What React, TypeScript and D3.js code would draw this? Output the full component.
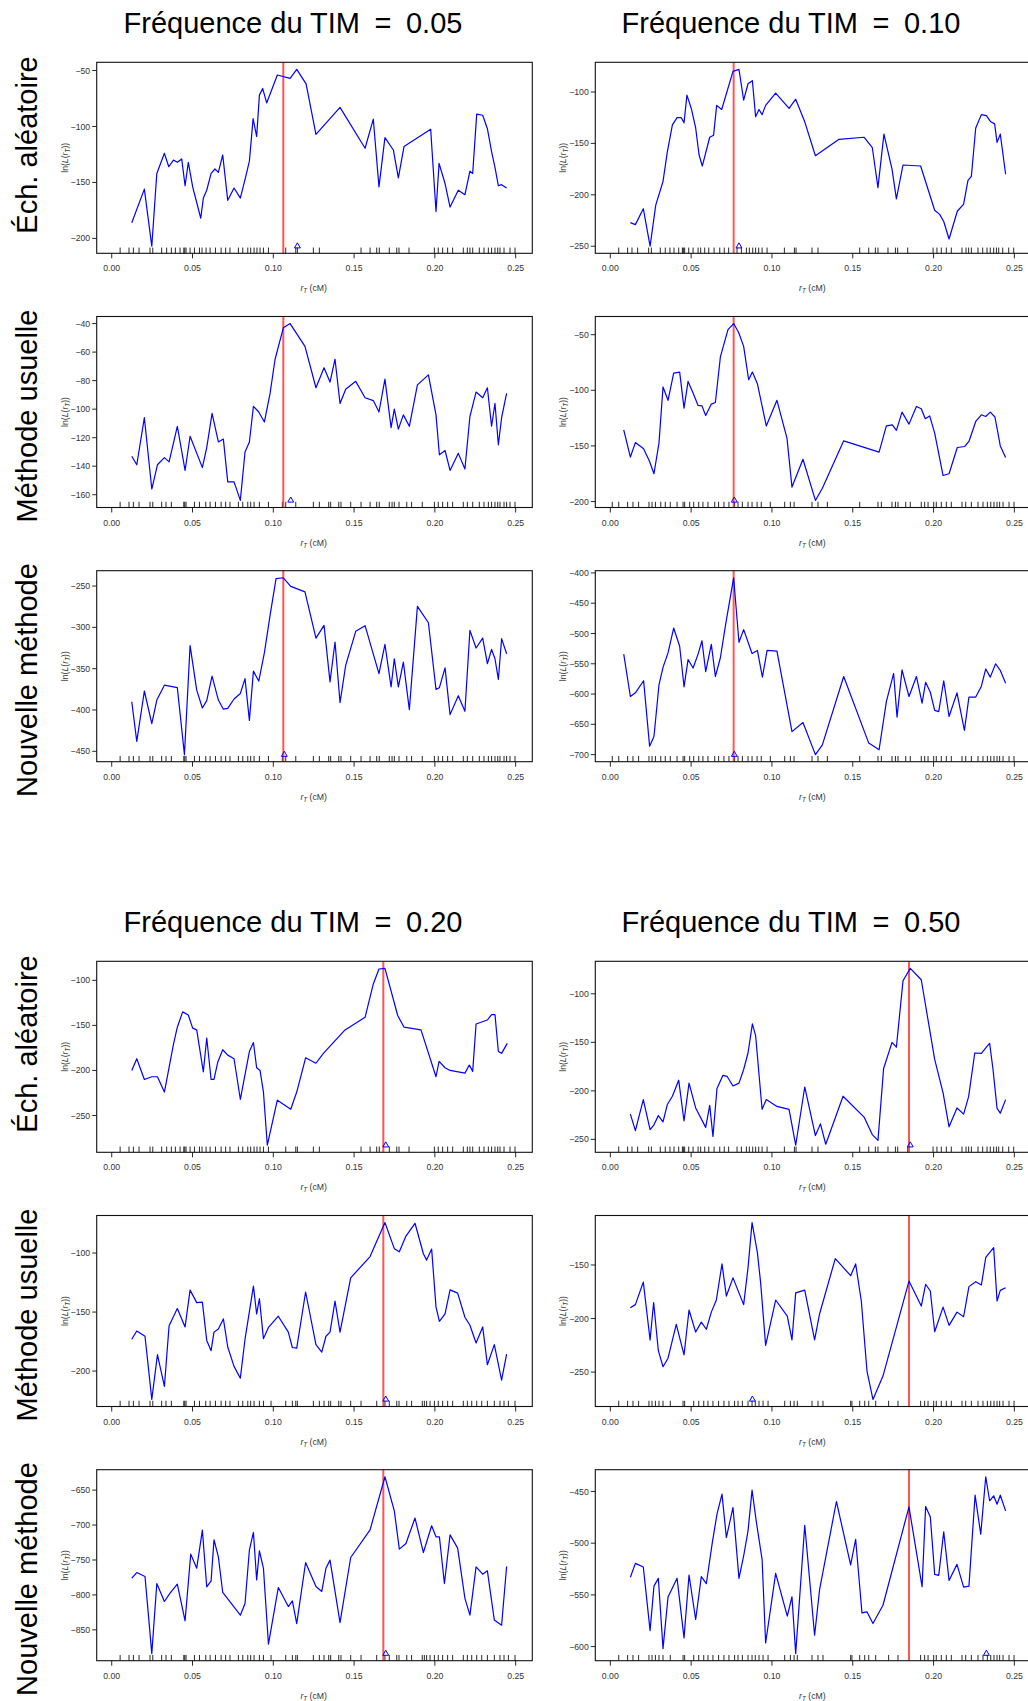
import React from "react";
import * as d3 from "d3";

// fréquences du TIM et méthodes
const timLabels = ["0.05", "0.10", "0.20", "0.50"];
const methodLabels = ["Éch. aléatoire", "Méthode usuelle", "Nouvelle méthode"];

// vraie position du TIM (ligne rouge), une par fréquence
const trueR = [0.1062, 0.0763, 0.1681, 0.1848];
// position estimée (triangle bleu) : fréquence x méthode
const estR = [
  [0.1149, 0.1108, 0.1068],
  [0.0796, 0.0767, 0.0767],
  [0.1696, 0.1696, 0.1696],
  [0.1856, 0.0879, 0.2327],
];

// positions des marqueurs (rug)
const rugEch = [0.0052, 0.0107, 0.0134, 0.0169, 0.0237, 0.0254, 0.0309, 0.034, 0.0369, 0.0394, 0.0423, 0.0446, 0.0452, 0.046, 0.0485, 0.0512, 0.0543, 0.0559, 0.0584, 0.0609, 0.0642, 0.0677, 0.0705, 0.0732, 0.0784, 0.0811, 0.0842, 0.086, 0.0881, 0.0899, 0.0918, 0.0939, 0.097, 0.1077, 0.1139, 0.1149, 0.1248, 0.1285, 0.1543, 0.1599, 0.164, 0.1656, 0.1718, 0.1764, 0.1778, 0.184, 0.1997, 0.2021, 0.2048, 0.2079, 0.211, 0.2176, 0.2201, 0.2217, 0.2234, 0.2275, 0.2304, 0.2331, 0.2351, 0.2372, 0.2389, 0.2403, 0.2428, 0.2465, 0.2496];
const rug05 = [0.0052, 0.0107, 0.0134, 0.0169, 0.0237, 0.0254, 0.0309, 0.0336, 0.0369, 0.0446, 0.0452, 0.046, 0.0512, 0.0543, 0.0582, 0.0609, 0.0642, 0.0677, 0.0705, 0.0732, 0.0784, 0.0811, 0.0842, 0.086, 0.0881, 0.0914, 0.097, 0.1056, 0.1077, 0.1139, 0.1248, 0.1285, 0.1343, 0.1355, 0.1405, 0.1419, 0.1479, 0.1543, 0.1599, 0.164, 0.1656, 0.1718, 0.1735, 0.1749, 0.1778, 0.1826, 0.1856, 0.1922, 0.1997, 0.2021, 0.2048, 0.2079, 0.211, 0.2176, 0.2201, 0.2234, 0.2275, 0.2304, 0.2331, 0.2351, 0.2372, 0.2389, 0.2403, 0.2428, 0.2444, 0.2465, 0.2496];
const rug10 = [0.0012, 0.0052, 0.0107, 0.014, 0.0175, 0.0239, 0.0258, 0.0279, 0.0312, 0.034, 0.0371, 0.0413, 0.045, 0.046, 0.0491, 0.0516, 0.0547, 0.0573, 0.0604, 0.0646, 0.067, 0.0703, 0.0734, 0.0769, 0.079, 0.0817, 0.0852, 0.0877, 0.0908, 0.0934, 0.099, 0.1079, 0.1114, 0.1137, 0.1248, 0.1285, 0.1343, 0.1543, 0.1656, 0.1677, 0.1743, 0.1764, 0.178, 0.1828, 0.1856, 0.1924, 0.1945, 0.1966, 0.2001, 0.2017, 0.2048, 0.2079, 0.211, 0.2176, 0.2199, 0.2234, 0.2275, 0.2306, 0.2333, 0.2354, 0.2374, 0.2393, 0.2409, 0.243, 0.2467, 0.2498];
const rug20 = [0.0052, 0.0107, 0.0134, 0.0169, 0.0237, 0.0254, 0.0309, 0.0336, 0.0369, 0.0446, 0.0452, 0.046, 0.0512, 0.0543, 0.0582, 0.0609, 0.0642, 0.0677, 0.0705, 0.0732, 0.0784, 0.0811, 0.0842, 0.086, 0.0881, 0.0914, 0.0939, 0.0986, 0.1077, 0.1118, 0.1139, 0.1149, 0.1248, 0.1285, 0.1314, 0.1343, 0.1355, 0.1405, 0.1419, 0.1479, 0.1543, 0.164, 0.1691, 0.1718, 0.1764, 0.1778, 0.1826, 0.1856, 0.1922, 0.1935, 0.1949, 0.197, 0.1997, 0.2021, 0.2048, 0.2079, 0.211, 0.2176, 0.2201, 0.2228, 0.2259, 0.229, 0.2325, 0.2368, 0.2403, 0.2428, 0.2455, 0.2496];
const rug50 = [0.0052, 0.0107, 0.014, 0.0175, 0.0239, 0.0258, 0.0279, 0.0301, 0.0326, 0.0371, 0.045, 0.046, 0.0516, 0.0547, 0.0578, 0.0604, 0.0635, 0.067, 0.0703, 0.0734, 0.0769, 0.079, 0.0817, 0.0852, 0.0877, 0.0897, 0.092, 0.0945, 0.0976, 0.1079, 0.1114, 0.1137, 0.1157, 0.1248, 0.1285, 0.1316, 0.1487, 0.1495, 0.1543, 0.1574, 0.1599, 0.1642, 0.1722, 0.178, 0.192, 0.1945, 0.1966, 0.2001, 0.2017, 0.2048, 0.2079, 0.211, 0.2176, 0.2199, 0.2234, 0.2275, 0.2306, 0.2333, 0.2354, 0.2374, 0.2393, 0.2409, 0.243, 0.2467, 0.2498];

// profils de log-vraisemblance : r_T (cM) et ln(L(r_T))
const r05ech = [0.0124, 0.0202, 0.0248, 0.0279, 0.0326, 0.0353, 0.0382, 0.0406, 0.0433, 0.0454, 0.0474, 0.0501, 0.0551, 0.0567, 0.0588, 0.0615, 0.0639, 0.066, 0.0687, 0.0718, 0.0757, 0.0796, 0.0829, 0.0852, 0.0875, 0.0897, 0.0914, 0.0934, 0.0959, 0.1025, 0.1104, 0.1145, 0.1203, 0.1264, 0.1413, 0.1568, 0.1619, 0.1654, 0.1691, 0.1743, 0.1774, 0.1809, 0.1974, 0.2007, 0.2026, 0.2063, 0.2094, 0.2145, 0.2186, 0.2217, 0.2234, 0.2259, 0.2296, 0.2325, 0.2351, 0.2372, 0.2393, 0.2413, 0.2444];
const ll05ech = [-186, -156, -207, -142, -124, -136, -130, -132, -129, -153, -132, -154, -182, -164, -157, -142, -138, -141, -125.5, -166, -155, -164, -145, -131, -93, -109, -72, -66, -79, -54, -57, -49, -62, -107, -83, -119.5, -93.5, -154, -110, -121, -146, -118, -102.5, -176, -133, -151, -172, -157, -161, -140, -142, -89, -90, -102, -122.5, -136.5, -153, -152, -155];

const r05usu = [0.0124, 0.0155, 0.0202, 0.0248, 0.0283, 0.0326, 0.0355, 0.0406, 0.0454, 0.0485, 0.0561, 0.0588, 0.0621, 0.066, 0.0691, 0.0718, 0.0757, 0.0796, 0.0825, 0.0852, 0.0877, 0.091, 0.0945, 0.098, 0.1011, 0.1062, 0.1104, 0.1196, 0.1264, 0.1314, 0.1351, 0.1382, 0.1413, 0.1448, 0.151, 0.1568, 0.1619, 0.1654, 0.1691, 0.1729, 0.1749, 0.1774, 0.1805, 0.1842, 0.1892, 0.196, 0.2007, 0.2028, 0.2063, 0.2094, 0.2145, 0.2186, 0.2217, 0.2255, 0.2296, 0.2325, 0.2351, 0.2372, 0.2393, 0.2413, 0.2444];
const ll05usu = [-133, -139, -106, -156, -139, -134, -137, -112, -143, -119, -141, -127, -103, -123, -121, -151, -151, -164, -130, -123, -98, -102, -109, -89, -65, -43, -40, -56, -85, -71, -81, -65, -96, -86, -80.5, -92, -94, -102, -79, -113, -100, -114, -104, -112, -83, -76, -104, -132, -129, -143, -131, -142, -105, -88, -92, -85, -112, -96, -125, -106, -89];

const r05nou = [0.0124, 0.0155, 0.0202, 0.0248, 0.0279, 0.0326, 0.0406, 0.045, 0.0485, 0.0526, 0.0561, 0.0588, 0.0621, 0.066, 0.0691, 0.0718, 0.0757, 0.0796, 0.0825, 0.0852, 0.0877, 0.091, 0.0945, 0.098, 0.1017, 0.1062, 0.1108, 0.1196, 0.1264, 0.1314, 0.1351, 0.1382, 0.1413, 0.1448, 0.151, 0.1568, 0.1654, 0.1691, 0.1729, 0.1749, 0.1774, 0.1805, 0.1842, 0.1892, 0.196, 0.2007, 0.2028, 0.2063, 0.2094, 0.2145, 0.2186, 0.2217, 0.2255, 0.2296, 0.2325, 0.2351, 0.2372, 0.2393, 0.2413, 0.2444];
const ll05nou = [-390, -438, -377, -416.5, -388, -370, -373, -454, -322, -376, -397.6, -388.7, -359, -388, -399, -398, -386.7, -380, -362, -412.5, -353, -365, -330.6, -285.5, -241, -240, -250.4, -257, -313, -297.6, -366, -317.7, -391, -346, -304.8, -298, -356, -320.6, -372, -338, -372, -342, -399.6, -274.6, -294.4, -375, -373, -349, -405.6, -382.7, -401.6, -303.6, -325, -313, -344, -326.6, -338, -363, -313.7, -332];

const r10ech = [0.0124, 0.0155, 0.0204, 0.0246, 0.0281, 0.0326, 0.0353, 0.0384, 0.0413, 0.0439, 0.0456, 0.0474, 0.0501, 0.0528, 0.0549, 0.0569, 0.0615, 0.0639, 0.0658, 0.0689, 0.0759, 0.0796, 0.0825, 0.0852, 0.0879, 0.0899, 0.092, 0.0939, 0.0961, 0.1023, 0.1106, 0.1147, 0.1203, 0.1269, 0.1415, 0.157, 0.1621, 0.1656, 0.1693, 0.1743, 0.177, 0.1811, 0.192, 0.2007, 0.2038, 0.2063, 0.2096, 0.2147, 0.2186, 0.2213, 0.2234, 0.2261, 0.2296, 0.2327, 0.2354, 0.2378, 0.2393, 0.2413, 0.2446];
const ll10ech = [-227, -229, -213.5, -250, -210, -187, -158, -132, -125, -125, -130, -103, -116, -135, -161, -172, -144, -142, -113, -117, -80, -78, -108, -92, -89, -124, -117, -122, -113, -101, -116, -107, -129, -162, -146, -144, -154, -193, -141, -175, -204, -171, -172, -215, -219, -226, -243, -216, -209, -186, -182, -135, -122, -123, -129, -131, -149, -141, -180];

const r10usu = [0.0083, 0.0124, 0.0155, 0.0206, 0.0243, 0.027, 0.0301, 0.0326, 0.0357, 0.0392, 0.0429, 0.0456, 0.0481, 0.0512, 0.0543, 0.0567, 0.059, 0.0625, 0.065, 0.0681, 0.0728, 0.0763, 0.0794, 0.0825, 0.0856, 0.0879, 0.091, 0.0965, 0.1031, 0.1093, 0.1124, 0.1192, 0.1269, 0.1312, 0.1444, 0.1663, 0.1708, 0.1745, 0.177, 0.1805, 0.1848, 0.1894, 0.1924, 0.1949, 0.1976, 0.2007, 0.2059, 0.2096, 0.2147, 0.2193, 0.2219, 0.2261, 0.2296, 0.2323, 0.2351, 0.238, 0.2413, 0.2446];
const ll10usu = [-135.5, -160, -147, -152.6, -164, -175, -147.5, -97, -109, -84.5, -83.6, -116, -92, -102.5, -113.6, -114, -122.6, -112.4, -111, -70, -45.5, -40, -48, -60.5, -90.5, -83.6, -94, -132, -109, -143, -187, -162, -199, -188, -145.4, -155.6, -132, -131, -136, -119.6, -130.4, -114.5, -116.6, -125.6, -123, -138.5, -176.6, -175, -151.4, -150.5, -146, -128, -122, -123.5, -119.6, -124, -150, -160.4];

const r10nou = [0.0083, 0.0124, 0.0155, 0.0206, 0.0243, 0.027, 0.0301, 0.0326, 0.0357, 0.0392, 0.0429, 0.0456, 0.0481, 0.0512, 0.0543, 0.0567, 0.059, 0.0625, 0.065, 0.0681, 0.0714, 0.0763, 0.0796, 0.0825, 0.0877, 0.091, 0.0941, 0.097, 0.1031, 0.1124, 0.1192, 0.1269, 0.1312, 0.1444, 0.1599, 0.1663, 0.1708, 0.1753, 0.1774, 0.1805, 0.1848, 0.1894, 0.1929, 0.1951, 0.198, 0.2007, 0.2032, 0.2063, 0.2096, 0.2145, 0.2191, 0.2219, 0.2261, 0.2296, 0.2323, 0.2351, 0.2384, 0.2413, 0.2446];
const ll10nou = [-534, -604, -598, -578, -686, -670, -585, -556, -532, -491, -521, -588, -543, -557, -534, -512, -563, -518, -571, -540, -484, -408, -514.5, -493.6, -533, -528, -572, -528, -529, -662, -647, -700, -684, -571, -681, -692, -612.5, -566, -638, -560, -604, -571, -615, -580.5, -597, -627, -629, -578, -637, -598, -660, -605, -605, -587, -558.5, -572, -550, -561, -582];

const r20ech = [0.0124, 0.0155, 0.0202, 0.0248, 0.0283, 0.0326, 0.0382, 0.0406, 0.0439, 0.0474, 0.0501, 0.0526, 0.0567, 0.0588, 0.0615, 0.0633, 0.0656, 0.0687, 0.0718, 0.0757, 0.0796, 0.0852, 0.0877, 0.0897, 0.0918, 0.0939, 0.0963, 0.1025, 0.1108, 0.1145, 0.12, 0.1264, 0.131, 0.1444, 0.1568, 0.1619, 0.1654, 0.1691, 0.177, 0.1809, 0.1914, 0.2007, 0.2026, 0.2063, 0.2094, 0.2186, 0.2213, 0.2234, 0.2255, 0.2325, 0.2351, 0.2372, 0.2393, 0.2413, 0.2448];
const ll20ech = [-200, -187, -210, -207, -207, -224, -171, -152, -135, -138.5, -153, -155, -201.5, -164, -210, -210, -191, -177, -183, -187, -232, -179, -169, -197, -200, -224, -283, -233, -243, -224, -186, -192, -181, -155, -141, -104, -87.4, -86.7, -139, -152, -155, -207, -190, -197, -200, -203, -194, -201, -148.5, -144, -138, -138, -179, -181, -170];

const r20usu = [0.0124, 0.0155, 0.0206, 0.0248, 0.0283, 0.0326, 0.0355, 0.0406, 0.0454, 0.0485, 0.0526, 0.0561, 0.0588, 0.0615, 0.0633, 0.066, 0.0691, 0.0718, 0.0757, 0.0796, 0.0825, 0.0877, 0.0897, 0.0914, 0.0939, 0.097, 0.1031, 0.1093, 0.1118, 0.1145, 0.12, 0.1264, 0.13, 0.1326, 0.1351, 0.1382, 0.1413, 0.1479, 0.1599, 0.1691, 0.1749, 0.178, 0.1821, 0.1877, 0.1929, 0.1949, 0.198, 0.2007, 0.2028, 0.2063, 0.2094, 0.2141, 0.2186, 0.2217, 0.2255, 0.2296, 0.2325, 0.2368, 0.2413, 0.2444];
const ll20usu = [-173, -166, -170.5, -224, -186, -213, -161.5, -147, -162.6, -131.4, -142, -141.6, -174, -182.7, -167, -164.3, -155.8, -179.6, -196, -206, -173, -128, -151.6, -138.5, -172.5, -163, -153.5, -167, -180, -180.5, -133, -177.6, -184, -170.5, -167, -140.8, -167, -121, -103, -74.2, -96.3, -99, -85.6, -74.8, -100.6, -106, -96.6, -145.6, -157.8, -151.6, -131.2, -134, -154.4, -161.2, -176.2, -162.6, -194.6, -177.6, -207.6, -185.6];

const r20nou = [0.0124, 0.0155, 0.0206, 0.0248, 0.0279, 0.0326, 0.0361, 0.0406, 0.0454, 0.0489, 0.0526, 0.0561, 0.0588, 0.0615, 0.0633, 0.066, 0.0687, 0.0796, 0.0825, 0.0852, 0.0877, 0.0897, 0.0914, 0.0939, 0.097, 0.1031, 0.1093, 0.1118, 0.1145, 0.12, 0.1264, 0.13, 0.1326, 0.1351, 0.1413, 0.1479, 0.1599, 0.1691, 0.1749, 0.178, 0.1821, 0.1877, 0.1929, 0.198, 0.2007, 0.2028, 0.2059, 0.2094, 0.2141, 0.2186, 0.2217, 0.2255, 0.2296, 0.2325, 0.2368, 0.2413, 0.2444];
const ll20nou = [-776, -768, -773.6, -884, -783.7, -809.4, -797.5, -784.6, -837, -741.6, -761.7, -707.3, -788.4, -779.8, -721, -745.5, -796.5, -829, -812.3, -736, -710.6, -778.4, -737, -762, -870.5, -789.4, -816.6, -808.5, -841, -753.6, -788, -795, -761.7, -750.2, -839.5, -746.4, -706.8, -630.9, -679.6, -734.5, -726.4, -690, -739.3, -701, -716.8, -716.8, -783.7, -714, -733, -805, -829, -759.8, -770.3, -765.5, -836, -843.3, -759.3];

const r50ech = [0.0124, 0.0155, 0.0204, 0.0246, 0.027, 0.0297, 0.0326, 0.0353, 0.0384, 0.0423, 0.0456, 0.0487, 0.0528, 0.059, 0.0615, 0.0635, 0.066, 0.0697, 0.0722, 0.0759, 0.0796, 0.0825, 0.0852, 0.0879, 0.0899, 0.0939, 0.0965, 0.1031, 0.1106, 0.1147, 0.1203, 0.1269, 0.13, 0.1333, 0.144, 0.157, 0.1621, 0.1656, 0.1691, 0.1743, 0.177, 0.1811, 0.1856, 0.1924, 0.2007, 0.2059, 0.2096, 0.2145, 0.2186, 0.2217, 0.2255, 0.2296, 0.2327, 0.2347, 0.2368, 0.2393, 0.2413, 0.2446];
const ll50ech = [-224, -241, -209, -240, -235, -225.5, -232, -214, -205.5, -189, -231, -192, -217.6, -237.6, -215, -247, -197.6, -184, -185, -195, -192, -178, -161, -131, -143, -219, -209, -216, -219, -256, -196, -246, -234, -255, -205.5, -227, -245, -251, -177, -150, -155, -86.6, -73.8, -85.5, -167.6, -202, -237, -217.6, -224, -206, -161, -161.4, -155, -151, -178, -218, -223, -209];

const r50usu = [0.0124, 0.0155, 0.0204, 0.0246, 0.0268, 0.0297, 0.0326, 0.0357, 0.0408, 0.0456, 0.0487, 0.0528, 0.0563, 0.0594, 0.0625, 0.0656, 0.0691, 0.0718, 0.0759, 0.0825, 0.0852, 0.0877, 0.091, 0.093, 0.0961, 0.1023, 0.1095, 0.1124, 0.1147, 0.1203, 0.1264, 0.1295, 0.1392, 0.1487, 0.1518, 0.1553, 0.1588, 0.1625, 0.1687, 0.1848, 0.1924, 0.1951, 0.198, 0.2007, 0.2059, 0.2096, 0.2145, 0.2186, 0.2219, 0.2261, 0.2296, 0.2323, 0.2372, 0.2393, 0.2413, 0.2446];
const ll50usu = [-190, -187, -166, -220, -185, -230, -245, -237, -205.5, -234, -192, -212.6, -203.3, -210, -194, -182.7, -149, -179, -162, -187, -152.5, -110.4, -138.5, -166.5, -225, -182.7, -197.7, -220, -176, -173.4, -220, -195.5, -144, -160, -149, -183.6, -249, -275.5, -253.7, -165, -188.3, -168, -174.3, -212.3, -189.3, -206.4, -194, -198.3, -170.2, -165.6, -168.7, -143, -133.8, -183.6, -173.7, -171.2];

const r50nou = [0.0124, 0.0155, 0.0204, 0.0246, 0.027, 0.0297, 0.0326, 0.0357, 0.0413, 0.0456, 0.0487, 0.0528, 0.0563, 0.0594, 0.0631, 0.066, 0.0691, 0.0718, 0.0759, 0.0796, 0.0825, 0.0852, 0.0877, 0.0904, 0.0939, 0.0961, 0.1023, 0.1095, 0.1124, 0.1147, 0.1203, 0.1264, 0.1295, 0.1399, 0.1487, 0.1518, 0.1557, 0.1588, 0.1625, 0.1687, 0.1848, 0.1929, 0.1951, 0.198, 0.2007, 0.2032, 0.2063, 0.2096, 0.2145, 0.2186, 0.2219, 0.2257, 0.2292, 0.2323, 0.2347, 0.2372, 0.2393, 0.2413, 0.2446];
const ll50nou = [-533, -519.5, -523, -584.5, -541.5, -534, -602, -552, -534, -591.6, -530.8, -573.8, -532.4, -539.2, -499.5, -472, -452.6, -494.6, -465.5, -534, -512.4, -488.2, -448.7, -480, -515.6, -596.5, -529.2, -570.6, -551.8, -606.8, -482.7, -589, -544.7, -459.7, -521, -496.2, -567.4, -566.4, -577.7, -560, -464.9, -542.1, -464.5, -474.6, -530.2, -531.2, -489, -536, -520.5, -542.5, -541.5, -453.6, -491.4, -435.8, -459, -454.2, -462.3, -453.6, -468.8];

const profiles = [
  [{ r: r05ech, ll: ll05ech, rug: rugEch }, { r: r05usu, ll: ll05usu, rug: rug05 }, { r: r05nou, ll: ll05nou, rug: rug05 }],
  [{ r: r10ech, ll: ll10ech, rug: rugEch }, { r: r10usu, ll: ll10usu, rug: rug10 }, { r: r10nou, ll: ll10nou, rug: rug10 }],
  [{ r: r20ech, ll: ll20ech, rug: rugEch }, { r: r20usu, ll: ll20usu, rug: rug20 }, { r: r20nou, ll: ll20nou, rug: rug20 }],
  [{ r: r50ech, ll: ll50ech, rug: rugEch }, { r: r50usu, ll: ll50usu, rug: rug50 }, { r: r50nou, ll: ll50nou, rug: rug50 }],
];

// mise en page
const W = 1028;
const H = 1701;
const FONT = "'Liberation Sans', Arial, Helvetica, sans-serif";
const COLS = [[96.7, 532.3], [595.3, 1031]];
const ROW_TOPS = [62.3, 316.5, 570.7];
const GROUP_SHIFT = 899;
const BOX_H = 191;
const TITLE_X = [293, 791];
const ROW_LABEL_Y = [145, 416, 680];
const X_DOMAIN = [-0.0093, 0.2603]; // xlim élargi de 4 % comme R
const TICK_FS = 8.7;

type PanelProps = {
  left: number; right: number; top: number;
  r: number[]; ll: number[]; rug: number[]; truth: number; est: number;
};

function Panel({ left, right, top, r, ll, rug, truth, est }: PanelProps) {
  const bottom = top + BOX_H;
  const x = d3.scaleLinear().domain(X_DOMAIN).range([left, right]);
  const [lo, hi] = d3.extent(ll) as [number, number];
  const pad = (hi - lo) * 0.04;
  const y = d3.scaleLinear().domain([lo - pad, hi + pad]).range([bottom, top]);
  const path = d3.line<number>().x((_, i) => x(r[i])).y(d => y(d))(ll) || "";
  const tri = d3.symbol().type(d3.symbolTriangle).size(15)() || "";
  const xTicks = [0, 0.05, 0.1, 0.15, 0.2, 0.25];
  const yTicks = y.ticks(5);
  const fmtX = d3.format(".2f");
  const midX = (x(0) + x(0.25)) / 2;
  const midY = (top + bottom) / 2;
  const rugLen = BOX_H * 0.03;

  return (
    <g>
      {/* rug */}
      {rug.map((m, i) => (
        <line key={"r" + i} x1={x(m)} x2={x(m)} y1={bottom} y2={bottom - rugLen} stroke="#111" strokeWidth={0.9} />
      ))}
      {/* vraie position */}
      <line x1={x(truth)} x2={x(truth)} y1={top} y2={bottom} stroke="#ff2a2a" strokeOpacity={0.8} strokeWidth={2} />
      <path d={path} fill="none" stroke="#0000ff" strokeWidth={1.2} strokeLinejoin="round" />
      <path d={tri} transform={`translate(${x(est)},${y(lo)})`} fill="none" stroke="#0000ff" strokeWidth={1} />
      <rect x={left} y={top} width={right - left} height={BOX_H} fill="none" stroke="#111" strokeWidth={1.1} />
      {/* axe x */}
      {xTicks.map(t => (
        <g key={"x" + t}>
          <line x1={x(t)} x2={x(t)} y1={bottom} y2={bottom + 5} stroke="#111" strokeWidth={0.9} />
          <text x={x(t)} y={bottom + 18} textAnchor="middle" fontSize={TICK_FS} fill="#333">{fmtX(t)}</text>
        </g>
      ))}
      {/* axe y */}
      {yTicks.map(t => (
        <g key={"y" + t}>
          <line x1={left - 4.5} x2={left} y1={y(t)} y2={y(t)} stroke="#111" strokeWidth={0.9} />
          <text x={left - 6.5} y={y(t)} dy="0.35em" textAnchor="end" fontSize={TICK_FS} fill="#333">
            {t < 0 ? "\u2212" + Math.abs(t) : String(t)}
          </text>
        </g>
      ))}
      {/* titres des axes */}
      <text x={midX} y={bottom + 38} textAnchor="middle" fontSize={TICK_FS} fill="#333">
        <tspan fontStyle="italic">r</tspan>
        <tspan fontStyle="italic" fontSize={6.3} dy={2}>T</tspan>
        <tspan dy={-2}>{"\u00a0(cM)"}</tspan>
      </text>
      <text transform={`translate(${left - 29},${midY}) rotate(-90)`} textAnchor="middle" fontSize={TICK_FS} fill="#333">
        ln(<tspan fontStyle="italic">L</tspan>(<tspan fontStyle="italic">r</tspan>
        <tspan fontStyle="italic" fontSize={6.3} dy={2}>T</tspan>
        <tspan dy={-2}>))</tspan>
      </text>
    </g>
  );
}

export default function App() {
  return (
    <svg width={W} height={H} viewBox={`0 0 ${W} ${H}`}
      style={{ position: "absolute", left: 0, top: 0, background: "#fff" }}
      fontFamily={FONT}>
      {timLabels.map((tim, k) => {
        const g = Math.floor(k / 2);
        const c = k % 2;
        return (
          <g key={tim}>
            <text x={TITLE_X[c]} y={33 + g * GROUP_SHIFT} textAnchor="middle" fontSize={29} fill="#000">
              {"Fréquence du TIM\u2002=\u2002" + tim}
            </text>
            {profiles[k].map((p, m) => (
              <Panel key={m} left={COLS[c][0]} right={COLS[c][1]}
                top={ROW_TOPS[m] + g * GROUP_SHIFT}
                r={p.r} ll={p.ll} rug={p.rug}
                truth={trueR[k]} est={estR[k][m]} />
            ))}
          </g>
        );
      })}
      {[0, 1].map(g =>
        methodLabels.map((lab, m) => (
          <text key={g + lab} transform={`translate(37,${ROW_LABEL_Y[m] + g * GROUP_SHIFT}) rotate(-90)`}
            textAnchor="middle" fontSize={29} fill="#000">{lab}</text>
        ))
      )}
    </svg>
  );
}
